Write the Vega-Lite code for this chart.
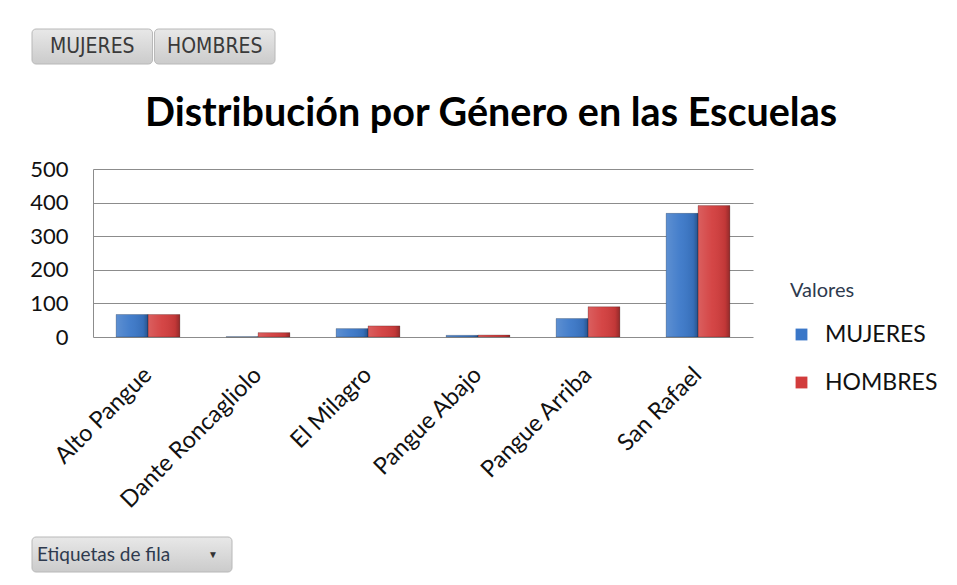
{
  "$schema": "https://vega.github.io/schema/vega-lite/v6.json",
  "padding": {"left": 29, "top": 28, "right": 0, "bottom": 0},
  "background": "white",
  "config": {"view": {"stroke": null}, "font": "Lato"},
  "datasets": {
    "schools": [
      {"escuela": "Alto Pangue", "genero": "MUJERES", "valor": 67},
      {"escuela": "Alto Pangue", "genero": "HOMBRES", "valor": 67},
      {"escuela": "Dante Roncagliolo", "genero": "MUJERES", "valor": 1},
      {"escuela": "Dante Roncagliolo", "genero": "HOMBRES", "valor": 13},
      {"escuela": "El Milagro", "genero": "MUJERES", "valor": 25},
      {"escuela": "El Milagro", "genero": "HOMBRES", "valor": 33},
      {"escuela": "Pangue Abajo", "genero": "MUJERES", "valor": 5},
      {"escuela": "Pangue Abajo", "genero": "HOMBRES", "valor": 6},
      {"escuela": "Pangue Arriba", "genero": "MUJERES", "valor": 55},
      {"escuela": "Pangue Arriba", "genero": "HOMBRES", "valor": 90},
      {"escuela": "San Rafael", "genero": "MUJERES", "valor": 368},
      {"escuela": "San Rafael", "genero": "HOMBRES", "valor": 391}
    ],
    "buttons": [{"serie": "MUJERES"}, {"serie": "HOMBRES"}],
    "rowlabel": [{"label": "Etiquetas de fila"}]
  },
  "spacing": 24,
  "vconcat": [
    {
      "spacing": 28,
      "vconcat": [
        {
          "data": {"name": "buttons"},
          "width": 182,
          "height": 35,
          "encoding": {
            "x": {"field": "serie", "type": "nominal", "sort": ["MUJERES", "HOMBRES"], "axis": null,
                  "scale": {"paddingInner": 0.016, "paddingOuter": 0, "range": [-61, 182]}}
          },
          "layer": [
            {"mark": {"type": "rect", "cornerRadius": 4, "stroke": "#b8b8b8", "strokeWidth": 1,
                      "fill": {"gradient": "linear", "x1": 0, "y1": 0, "x2": 0, "y2": 1,
                               "stops": [{"offset": 0, "color": "#e8e8e8"}, {"offset": 1, "color": "#cbcbcb"}]}}},
            {"mark": {"type": "text", "font": "Liberation Sans Narrow, DejaVu Sans Condensed, Roboto", "fontSize": 21, "color": "#3a3a3a"},
             "encoding": {"text": {"field": "serie"}}}
          ]
        },
        {
          "data": {"name": "schools"},
          "width": 660,
          "height": 168,
          "title": {"text": "Distribución por Género en las Escuelas", "fontSize": 39.5, "font": "Lato", "fontWeight": "bold",
                    "color": "#000000", "anchor": "middle", "frame": "group", "dx": 68, "offset": 24},
          "encoding": {
            "x": {"field": "escuela", "type": "nominal",
                  "sort": ["Alto Pangue", "Dante Roncagliolo", "El Milagro", "Pangue Abajo", "Pangue Arriba", "San Rafael"],
                  "scale": {"paddingInner": 0.42, "paddingOuter": 0.21},
                  "axis": {"title": null, "labelAngle": -45, "labelAlign": "right", "labelBaseline": "middle", "labelPadding": 34,
                           "labelFontSize": 23.5, "labelColor": "#111111", "ticks": false, "domain": false, "labelLimit": 300}},
            "xOffset": {"field": "genero", "type": "nominal", "sort": ["MUJERES", "HOMBRES"]},
            "y": {"field": "valor", "type": "quantitative", "scale": {"domain": [0, 500], "nice": false},
                  "axis": {"title": null, "values": [0, 100, 200, 300, 400, 500], "labelFontSize": 22, "labelColor": "#111111",
                           "labelPadding": 25, "ticks": false, "domainColor": "#8c8c8c", "gridColor": "#8c8c8c", "gridOpacity": 1}}
          },
          "layer": [
            {"mark": {"type": "bar"},
             "encoding": {"color": {"field": "genero", "type": "nominal", "sort": ["MUJERES", "HOMBRES"],
                                    "scale": {"domain": ["MUJERES", "HOMBRES"], "range": ["#3a77c8", "#d23c3c"]},
                                    "legend": {"title": "Valores", "orient": "none", "legendX": 697, "legendY": 252,
                                               "titleFontSize": 20, "titleFontWeight": "normal", "titleColor": "#2e3a4e", "titlePadding": 22,
                                               "labelFontSize": 23, "labelColor": "#111111", "symbolType": "square", "symbolSize": 140,
                                               "symbolStrokeWidth": 0, "labelOffset": 12, "rowPadding": 24}}}},
            {"mark": {"type": "bar", "stroke": "#00000040", "strokeWidth": 0.8,
                      "fill": {"gradient": "linear", "x1": 0, "y1": 0, "x2": 1, "y2": 0,
                               "stops": [{"offset": 0, "color": "rgba(255,255,255,0.18)"},
                                         {"offset": 0.45, "color": "rgba(255,255,255,0.05)"},
                                         {"offset": 0.85, "color": "rgba(0,0,0,0.08)"},
                                         {"offset": 1, "color": "rgba(0,0,0,0.3)"}]}}}
          ]
        }
      ]
    },
    {
      "data": {"name": "rowlabel"},
      "width": 139,
      "height": 35,
      "encoding": {"x": {"field": "label", "type": "nominal", "axis": null,
                         "scale": {"paddingInner": 0, "paddingOuter": 0, "range": [-61, 139]}}},
      "layer": [
        {"mark": {"type": "rect", "cornerRadius": 4, "stroke": "#b8b8b8", "strokeWidth": 1,
                  "fill": {"gradient": "linear", "x1": 0, "y1": 0, "x2": 0, "y2": 1,
                           "stops": [{"offset": 0, "color": "#e8e8e8"}, {"offset": 1, "color": "#cbcbcb"}]}}},
        {"mark": {"type": "text", "font": "Lato", "fontSize": 19, "color": "#2e3a4e", "align": "left", "dx": -95},
         "encoding": {"text": {"field": "label"}}},
        {"mark": {"type": "text", "fontSize": 10, "color": "#333333", "dx": 81, "text": "▼"}}
      ]
    }
  ]
}
